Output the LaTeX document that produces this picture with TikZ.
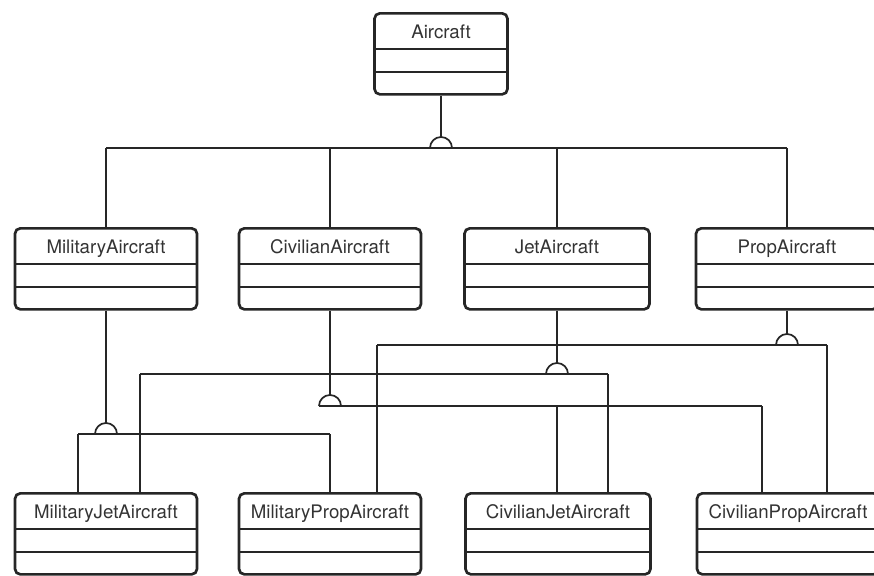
\documentclass[tikz,border=0pt]{standalone}
\usepackage{fontspec}
\setmainfont{TeX Gyre Heros}
\tikzset{
  classbox/.style={draw=black!85, line width=2pt, rounded corners=4pt, anchor=north,
    inner sep=0pt, minimum width=#1, text height=18.5pt, text depth=42.25pt,
    font=\fontsize{14}{16}\selectfont, text=black!80,
    path picture={
      \draw[line width=1.4pt, black!85] ([yshift=-27pt]path picture bounding box.north west) -- ([yshift=-27pt]path picture bounding box.north east);
      \draw[line width=1.4pt, black!85] ([yshift=-44.25pt]path picture bounding box.north west) -- ([yshift=-44.25pt]path picture bounding box.north east);
    }},
  classbox/.default=136.5pt,
  conn/.style={draw=black!85, line width=1.3pt},
  gen/.pic={\draw[conn] (-11,0) arc[start angle=180, end angle=360, radius=11];}
}
\begin{document}
\begin{tikzpicture}[x=0.75pt, y=-0.75pt]
 \useasboundingbox (0,0) rectangle (874,575);
 \node[classbox=99.75pt] (air) at (441,12) {Aircraft};
 \node[classbox] (mil) at (106,227) {MilitaryAircraft};
 \node[classbox] (civ) at (330,227) {CivilianAircraft};
 \node[classbox=138.75pt] (jet) at (557,227) {JetAircraft};
 \node[classbox] (prop) at (787,227) {PropAircraft};
 \node[classbox] (mjet) at (106,492) {MilitaryJetAircraft};
 \node[classbox] (mprop) at (330,492) {MilitaryPropAircraft};
 \node[classbox=138.75pt] (cjet) at (558,492) {CivilianJetAircraft};
 \node[classbox] (cprop) at (788,492) {CivilianPropAircraft};

 \coordinate (jA) at (441,148);
 \draw[conn] (air.south) -- ([yshift=8.25pt]jA);
 \pic at (jA) {gen};
 \draw[conn] (mil.north |- jA) -- (prop.north |- jA);
 \foreach \c in {mil,civ,jet,prop}
   \draw[conn] (\c.north) -- (\c.north |- jA);

 \coordinate (jP) at (787,345);
 \coordinate (pL) at (377,345);
 \coordinate (pR) at (827,345);
 \draw[conn] (prop.south) -- ([yshift=8.25pt]jP);
 \pic at (jP) {gen};
 \draw[conn] (pL) -- (pR);
 \draw[conn] (pL) -- (pL |- mprop.north);
 \draw[conn] (pR) -- (pR |- cprop.north);

 \coordinate (jJ) at (557,374);
 \coordinate (jL) at (140,374);
 \coordinate (jR) at (608,374);
 \draw[conn] (jet.south) -- ([yshift=8.25pt]jJ);
 \pic at (jJ) {gen};
 \draw[conn] (jL) -- (jR);
 \draw[conn] (jL) -- (jL |- mjet.north);
 \draw[conn] (jR) -- (jR |- cjet.north);

 \coordinate (jC) at (330,406);
 \coordinate (cR) at (762,406);
 \draw[conn] (civ.south) -- ([yshift=8.25pt]jC);
 \pic at (jC) {gen};
 \draw[conn] ([xshift=-8.25pt]jC) -- (cR);
 \draw[conn] (jJ |- jC) -- (jJ |- cjet.north);
 \draw[conn] (cR) -- (cR |- cprop.north);

 \coordinate (jM) at (106,434);
 \coordinate (mL) at (78,434);
 \coordinate (mR) at (330,434);
 \draw[conn] (mil.south) -- ([yshift=8.25pt]jM);
 \pic at (jM) {gen};
 \draw[conn] (mL) -- (mR);
 \draw[conn] (mL) -- (mL |- mjet.north);
 \draw[conn] (mR) -- (mprop.north);
\end{tikzpicture}
\end{document}
